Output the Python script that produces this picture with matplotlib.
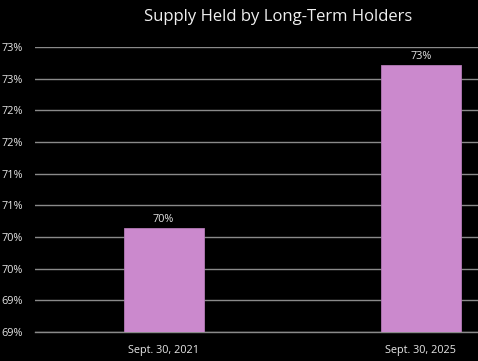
import math
import matplotlib
matplotlib.use("Agg")
import matplotlib.pyplot as plt
from matplotlib.ticker import FuncFormatter, MultipleLocator

# datos
fechas = ["Sept. 30, 2021", "Sept. 30, 2025"]
valores = [70.14, 72.72]  # porcentaje de suministro

plt.rcParams['font.family'] = ['Open Sans', 'DejaVu Sans']

fig = plt.figure(figsize=(4.78, 3.61), dpi=100, facecolor="black")
ax = fig.add_axes([35/478, 1 - 332/361, 443/478, (332 - 47)/361], facecolor="black")

x = list(range(len(fechas)))
barras = ax.bar(x, valores, width=0.31, color="#cb89cd", edgecolor="#b57ab7", linewidth=0.6, zorder=3)

def redondeo(v):
    return "%d%%" % math.floor(v + 0.5)  # redondeo tipo excel (68.5 -> 69)

for xi, v in zip(x, valores):
    ax.text(xi, v + 0.05, redondeo(v), ha="center", va="bottom", color="#e6e6e6", fontsize=7.8)

ax.set_ylim(68.5, 73.0)
ax.set_xlim(-0.5, 1.222)
ax.yaxis.set_major_locator(MultipleLocator(0.5))
ax.yaxis.set_major_formatter(FuncFormatter(lambda v, p: redondeo(v)))
ax.set_xticks(x)
ax.set_xticklabels(fechas)
ax.tick_params(colors="#e6e6e6", labelsize=7.8, length=0)
ax.tick_params(axis="y", pad=8.5)
ax.tick_params(axis="x", pad=9)
ax.grid(axis="y", color="#8a8a8a", linewidth=1, zorder=0)
for s in ax.spines.values():
    s.set_visible(False)
ax.spines["bottom"].set_visible(True)
ax.spines["bottom"].set_color("#8a8a8a")
ax.spines["bottom"].set_linewidth(1)

fig.text(278/478, 1 - 17/361, "Supply Held by Long-Term Holders", ha="center", va="center",
         color="#f0f0f0", fontsize=12)

fig.savefig("out.png", dpi=100, facecolor="black")
